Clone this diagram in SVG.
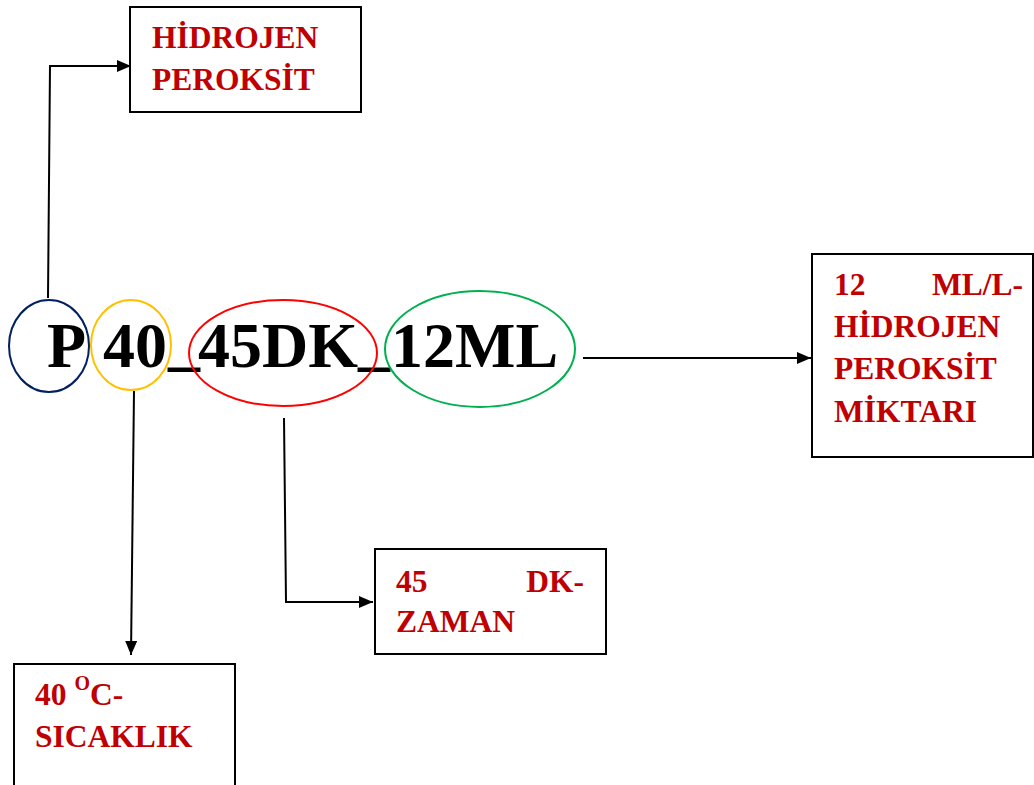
<svg xmlns="http://www.w3.org/2000/svg" width="1034" height="785" viewBox="0 0 1034 785">
<style>
.box{fill:#fff;stroke:#000;stroke-width:2}
.lbl{font-family:"Liberation Serif","Times New Roman",serif;font-weight:bold;font-size:31.5px;fill:#C00000}
.big{font-family:"Liberation Serif","Times New Roman",serif;font-weight:bold;font-size:64px;fill:#000}
.ell{fill:none;stroke-width:2}
.con{fill:none;stroke:#000;stroke-width:2}
</style>
<defs>
<marker id="arr" viewBox="0 0 14 12" refX="14" refY="6" markerWidth="14" markerHeight="12" markerUnits="userSpaceOnUse" orient="auto">
<path d="M0,0 L14,6 L0,12 Z" fill="#000"/>
</marker>
</defs>
<rect width="1034" height="785" fill="#fff"/>
<g id="code">
<text class="big" y="367"><tspan x="47">P</tspan><tspan x="103">40</tspan><tspan x="168" dy="-4">_</tspan><tspan x="198" dy="4">45DK</tspan><tspan x="358" dy="-4">_</tspan><tspan x="391" dy="4">12ML</tspan></text>
<ellipse class="ell" cx="49" cy="346" rx="40" ry="46" stroke="#002060"/>
<ellipse class="ell" cx="131" cy="345" rx="40" ry="45" stroke="#FFC000"/>
<ellipse class="ell" cx="283" cy="353" rx="94" ry="53" stroke="#FF0000"/>
<ellipse class="ell" cx="480" cy="349" rx="95" ry="58" stroke="#00B050"/>
</g>
<g id="connectors">
<polyline class="con" points="48,298 50,66 131,66" marker-end="url(#arr)"/>
<line class="con" x1="134" y1="391" x2="131" y2="655" marker-end="url(#arr)"/>
<polyline class="con" points="284,418 286,602 373,602" marker-end="url(#arr)"/>
<line class="con" x1="583" y1="358" x2="811" y2="358" marker-end="url(#arr)"/>
</g>
<g id="node-hidrojen">
<rect class="box" x="130" y="7" width="231" height="105"/>
<text class="lbl" x="152" y="48">HİDROJEN</text>
<text class="lbl" x="152" y="90">PEROKSİT</text>
</g>
<g id="node-miktar">
<rect class="box" x="812" y="254" width="221" height="203"/>
<text class="lbl" x="834" y="295">12</text>
<text class="lbl" x="1023" y="295" text-anchor="end">ML/L-</text>
<text class="lbl" x="834" y="337">HİDROJEN</text>
<text class="lbl" x="834" y="379">PEROKSİT</text>
<text class="lbl" x="834" y="422">MİKTARI</text>
</g>
<g id="node-zaman">
<rect class="box" x="375" y="549" width="231" height="105"/>
<text class="lbl" x="396" y="592">45</text>
<text class="lbl" x="584" y="592" text-anchor="end">DK-</text>
<text class="lbl" x="396" y="632">ZAMAN</text>
</g>
<g id="node-sicaklik">
<rect class="box" x="14" y="664" width="221" height="125"/>
<text class="lbl" x="35" y="705">40 <tspan font-size="20" dy="-15">O</tspan><tspan dy="15">C-</tspan></text>
<text class="lbl" x="35" y="747">SICAKLIK</text>
</g>
</svg>
